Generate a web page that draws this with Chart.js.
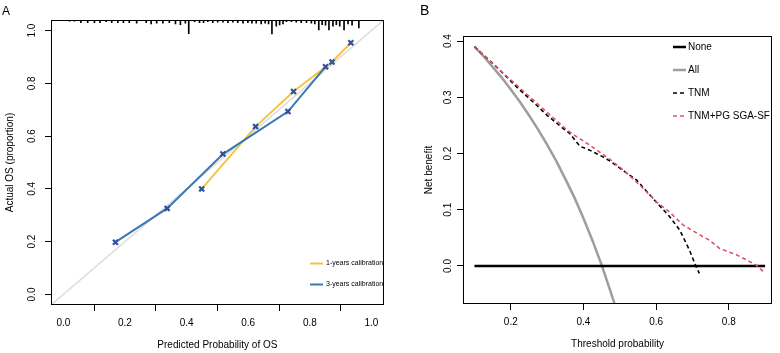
<!DOCTYPE html>
<html>
<head>
<meta charset="utf-8">
<script src="https://cdn.jsdelivr.net/npm/chart.js@4.4.0/dist/chart.umd.min.js"></script>
<style>
  body { margin: 0; background: #fff; }
  #wrap { position: relative; width: 780px; height: 353px; font-family: "Liberation Sans", Arial, sans-serif; }
  canvas { position: absolute; top: 0; }
  #calib { left: 0; }
  #dca { left: 390px; }
  .tag { position: absolute; color: #000; line-height: 1; }
</style>
</head>
<body>
<div id="wrap">
  <canvas id="calib" width="390" height="353"></canvas>
  <canvas id="dca" width="390" height="353"></canvas>
  <div class="tag" style="left:2px;top:5px;font-size:12px;">A</div>
  <div class="tag" style="left:420px;top:3px;font-size:14px;">B</div>
</div>
<script>
// ---- panel A : calibration ----
const calibTicks = [0, 0.2, 0.4, 0.6, 0.8, 1.0];
const year1Pred = [0.449, 0.624, 0.747, 0.872, 0.933];
const year1Obs  = [0.400, 0.636, 0.769, 0.881, 0.954];
const year3Pred = [0.169, 0.337, 0.518, 0.729, 0.851];
const year3Obs  = [0.198, 0.326, 0.532, 0.693, 0.863];
// spike histogram of predicted risk (top rug)
const rugPred = [0.020, 0.036, 0.057, 0.079, 0.101, 0.119, 0.139, 0.157, 0.177, 0.195,
                 0.214, 0.238, 0.269, 0.285, 0.303, 0.323, 0.344, 0.364, 0.380, 0.396,
                 0.407, 0.426, 0.442, 0.455, 0.469, 0.485, 0.501, 0.518, 0.534, 0.550,
                 0.566, 0.583, 0.599, 0.612, 0.626, 0.642, 0.655, 0.666, 0.677, 0.691,
                 0.702, 0.713, 0.724, 0.740, 0.756, 0.772, 0.789, 0.805, 0.816, 0.829,
                 0.840, 0.851, 0.862, 0.875, 0.886, 0.897, 0.911, 0.924, 0.937, 0.959];
const rugLen  = [0.004, 0.004, 0.010, 0.010, 0.010, 0.010, 0.006, 0.010, 0.010, 0.010,
                 0.010, 0.012, 0.010, 0.015, 0.012, 0.012, 0.010, 0.015, 0.018, 0.012,
                 0.052, 0.006, 0.010, 0.010, 0.006, 0.010, 0.008, 0.008, 0.010, 0.008,
                 0.010, 0.012, 0.010, 0.012, 0.012, 0.015, 0.012, 0.015, 0.053, 0.023,
                 0.019, 0.015, 0.006, 0.006, 0.008, 0.010, 0.010, 0.012, 0.015, 0.038,
                 0.018, 0.020, 0.038, 0.023, 0.018, 0.023, 0.038, 0.015, 0.020, 0.030];

// ---- panel B : decision curve ----
const dcaXTicks = [0.2, 0.4, 0.6, 0.8];
const dcaYTicks = [0.0, 0.1, 0.2, 0.3, 0.4];
const noneX = [0.10, 0.90];
const noneY = [0, 0];
const allX = [0.100, 0.125, 0.150, 0.175, 0.200, 0.225, 0.250, 0.275, 0.300, 0.325, 0.350, 0.375, 0.400, 0.425, 0.450, 0.475, 0.490];
const allY = [0.390, 0.373, 0.354, 0.335, 0.314, 0.292, 0.268, 0.243, 0.216, 0.187, 0.155, 0.122, 0.085, 0.045, 0.002, -0.046, -0.076];
const tnmX = [0.100, 0.156, 0.220, 0.266, 0.300, 0.349, 0.362, 0.390, 0.417, 0.454, 0.477, 0.500, 0.546, 0.600, 0.637, 0.665, 0.692, 0.708, 0.719];
const tnmY = [0.390, 0.357, 0.316, 0.289, 0.268, 0.242, 0.236, 0.213, 0.206, 0.194, 0.185, 0.174, 0.153, 0.114, 0.088, 0.064, 0.028, 0.002, -0.013];
const pgX = [0.100, 0.165, 0.257, 0.349, 0.367, 0.417, 0.472, 0.509, 0.555, 0.601, 0.637, 0.674, 0.729, 0.747, 0.775, 0.821, 0.875, 0.898];
const pgY = [0.390, 0.351, 0.298, 0.245, 0.236, 0.215, 0.190, 0.171, 0.144, 0.114, 0.096, 0.073, 0.052, 0.046, 0.031, 0.020, 0.002, -0.012];

const FONT = '"Liberation Sans", Arial, sans-serif';
Chart.defaults.font.family = FONT;
Chart.defaults.color = '#000';

function pts(xs, ys) {
  return xs.map((x, i) => ({ x: x, y: ys[i] }));
}

// box, rotated y labels, legend
const frame = {
  id: 'frame',
  afterDraw(chart, args, opts) {
    const ctx = chart.ctx;
    const a = chart.chartArea;
    ctx.save();
    ctx.strokeStyle = '#000';
    ctx.lineWidth = 1;
    ctx.setLineDash([]);
    ctx.strokeRect(Math.round(a.left) + 0.5, Math.round(a.top) + 0.5,
                   Math.round(a.right - a.left) - 1, Math.round(a.bottom - a.top) - 1);

    const ys = chart.scales.y;
    ctx.font = '10px ' + FONT;
    ctx.fillStyle = '#000';
    ctx.textAlign = 'center';
    ctx.textBaseline = 'middle';
    ys.ticks.forEach(t => {
      const py = ys.getPixelForValue(t.value);
      ctx.save();
      ctx.translate(opts.labelX, py);
      ctx.rotate(-Math.PI / 2);
      ctx.fillText(t.value.toFixed(1), 0, 0);
      ctx.restore();
    });

    ctx.font = opts.legendSize + 'px ' + FONT;
    ctx.textAlign = 'left';
    opts.legend.forEach(it => {
      ctx.beginPath();
      ctx.strokeStyle = it.color;
      ctx.lineWidth = it.width;
      ctx.setLineDash(it.dash || []);
      ctx.moveTo(opts.x0, it.y);
      ctx.lineTo(opts.x1, it.y);
      ctx.stroke();
      ctx.setLineDash([]);
      ctx.fillStyle = '#000';
      ctx.fillText(it.text, opts.tx, it.y);
    });
    ctx.restore();
  }
};

const A_MIN = -0.04, A_MAX = 1.04;

new Chart(document.getElementById('calib'), {
  type: 'scatter',
  data: {
    datasets: [
      {
        type: 'line', label: '3-years calibration', order: 1,
        data: pts(year3Pred, year3Obs),
        borderColor: '#3a77b5', borderWidth: 2, tension: 0,
        pointStyle: 'crossRot', pointRadius: 3.5, pointBorderWidth: 2.2,
        pointBorderColor: '#2f4f9f', pointBackgroundColor: '#2f4f9f'
      },
      {
        type: 'line', label: '1-years calibration', order: 2,
        data: pts(year1Pred, year1Obs),
        borderColor: '#f3c443', borderWidth: 2, tension: 0,
        pointStyle: 'crossRot', pointRadius: 3.5, pointBorderWidth: 2.2,
        pointBorderColor: '#2f4f9f', pointBackgroundColor: '#2f4f9f'
      },
      {
        type: 'bar', label: 'rug', order: 3,
        data: rugPred.map((v, i) => ({ x: v, y: [A_MAX - rugLen[i], A_MAX] })),
        backgroundColor: '#000', barThickness: 1, grouped: false
      },
      {
        type: 'line', label: 'ideal', order: 4,
        data: pts([A_MIN, A_MAX], [A_MIN, A_MAX]),
        borderColor: '#dcdcdc', borderWidth: 1.5, pointRadius: 0
      }
    ]
  },
  options: {
    responsive: false,
    animation: false,
    devicePixelRatio: 1,
    layout: { padding: { top: 20, right: 6, left: 0, bottom: 0 } },
    plugins: {
      legend: { display: false },
      tooltip: { enabled: false },
      frame: {
        labelX: 32, x0: 310, x1: 323, tx: 326, legendSize: 7,
        legend: [
          { text: '1-years calibration', color: '#f3c443', width: 2, y: 263.5 },
          { text: '3-years calibration', color: '#3a77b5', width: 2, y: 284.5 }
        ]
      }
    },
    scales: {
      x: {
        type: 'linear', min: A_MIN, max: A_MAX, offset: false,
        afterBuildTicks: s => { s.ticks = calibTicks.map(v => ({ value: v })); },
        afterFit: s => { s.height = 48; },
        grid: { drawOnChartArea: false, drawTicks: true, tickLength: 6, color: '#000' },
        border: { display: false },
        ticks: { padding: 6, font: { size: 10 }, callback: v => v.toFixed(1), maxRotation: 0 },
        title: { display: true, text: 'Predicted Probability of OS', font: { size: 10 }, padding: { top: 0, bottom: 2 } }
      },
      y: {
        type: 'linear', min: A_MIN, max: A_MAX,
        afterBuildTicks: s => { s.ticks = calibTicks.map(v => ({ value: v })); },
        afterFit: s => { s.width = 51; },
        grid: { drawOnChartArea: false, drawTicks: true, tickLength: 6, color: '#000' },
        border: { display: false },
        ticks: { color: 'rgba(0,0,0,0)', font: { size: 10 } },
        title: { display: true, text: 'Actual OS (proportion)', font: { size: 10 }, padding: { top: 4, bottom: 0 } }
      }
    }
  },
  plugins: [frame]
});

new Chart(document.getElementById('dca'), {
  type: 'scatter',
  data: {
    datasets: [
      {
        type: 'line', label: 'TNM+PG SGA-SF', order: 1,
        data: pts(pgX, pgY), borderColor: '#df536b', borderWidth: 1.6,
        borderDash: [4, 3], pointRadius: 0, tension: 0
      },
      {
        type: 'line', label: 'TNM', order: 2,
        data: pts(tnmX, tnmY), borderColor: '#000', borderWidth: 1.6,
        borderDash: [4, 3], pointRadius: 0, tension: 0
      },
      {
        type: 'line', label: 'None', order: 3,
        data: pts(noneX, noneY), borderColor: '#000', borderWidth: 2.5,
        pointRadius: 0
      },
      {
        type: 'line', label: 'All', order: 4,
        data: pts(allX, allY), borderColor: '#9e9e9e', borderWidth: 2.5,
        pointRadius: 0, tension: 0
      }
    ]
  },
  options: {
    responsive: false,
    animation: false,
    devicePixelRatio: 1,
    layout: { padding: { top: 36, right: 8, left: 0, bottom: 0 } },
    plugins: {
      legend: { display: false },
      tooltip: { enabled: false },
      frame: {
        labelX: 58, x0: 283, x1: 296, tx: 298, legendSize: 10,
        legend: [
          { text: 'None', color: '#000', width: 2.5, y: 47 },
          { text: 'All', color: '#9e9e9e', width: 2.5, y: 70 },
          { text: 'TNM', color: '#000', width: 1.6, dash: [4, 3], y: 93 },
          { text: 'TNM+PG SGA-SF', color: '#df536b', width: 1.6, dash: [4, 3], y: 116 }
        ]
      }
    },
    scales: {
      x: {
        type: 'linear', min: 0.0685, max: 0.919,
        afterBuildTicks: s => { s.ticks = dcaXTicks.map(v => ({ value: v })); },
        afterFit: s => { s.height = 49; },
        grid: { drawOnChartArea: false, drawTicks: true, tickLength: 6, color: '#000' },
        border: { display: false },
        ticks: { padding: 6, font: { size: 10 }, callback: v => v.toFixed(1), maxRotation: 0 },
        title: { display: true, text: 'Threshold probability', font: { size: 10 }, padding: { top: 0, bottom: 3 } }
      },
      y: {
        type: 'linear', min: -0.0676, max: 0.409,
        afterBuildTicks: s => { s.ticks = dcaYTicks.map(v => ({ value: v })); },
        afterFit: s => { s.width = 73; },
        grid: { drawOnChartArea: false, drawTicks: true, tickLength: 6, color: '#000' },
        border: { display: false },
        ticks: { color: 'rgba(0,0,0,0)', font: { size: 10 } },
        title: { display: true, text: 'Net benefit', font: { size: 10 }, padding: { top: 33, bottom: 0 } }
      }
    }
  },
  plugins: [frame]
});
</script>
</body>
</html>
